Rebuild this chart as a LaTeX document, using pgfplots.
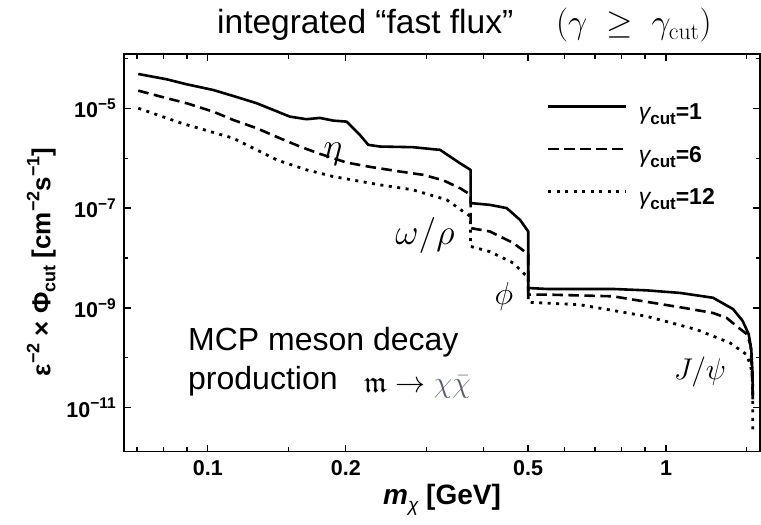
\RequirePackage{fix-cm}
\documentclass[border=0pt]{standalone}
\usepackage{amssymb}
\usepackage[no-math]{fontspec}
\setmainfont{Liberation Sans}
\usepackage{pgfplots}
\pgfplotsset{compat=1.18}
\DeclareFontFamily{U}{euf}{}
\DeclareFontShape{U}{euf}{m}{n}{<-> eufm10}{}
\definecolor{chigray}{HTML}{5B6070}

\newcommand{\fs}[1]{\fontsize{#1}{#1}\selectfont}
% raised / lowered small text: \sss{shift}{size}{text}
\newcommand{\sss}[3]{\raisebox{#1}{\fs{#2}#3}}

\begin{document}
\begin{tikzpicture}
\useasboundingbox (0,0) rectangle (761pt,525pt);
\begin{axis}[
  at={(124pt,73.3pt)}, anchor=south west,
  width=636pt, height=397.7pt, scale only axis,
  xmode=log, ymode=log,
  xmin=0.0656, xmax=1.604, ymin=1.32e-12, ymax=1.22e-4,
  xtick={0.1,0.2,0.5,1}, xticklabels={0.1,0.2,0.5,1},
  minor xtick={0.07,0.08,0.09,0.15,0.3,0.4,0.6,0.7,0.8,0.9,1.5},
  ytick={1e-11,1e-9,1e-7,1e-5},
  yticklabels={10\sss{8.5pt}{15.5}{−11},10\sss{8.5pt}{15.5}{−9},10\sss{8.5pt}{15.5}{−7},10\sss{8.5pt}{15.5}{−5}},
  minor ytick={1e-12,1e-10,1e-8,1e-6,1e-4},
  tick label style={font=\bfseries\fs{21.5}, inner sep=0pt},
  xticklabel style={anchor=north, yshift=-9pt},
  yticklabel style={anchor=east, xshift=-8pt},
  major tick length=7pt, minor tick length=4.5pt,
  tick style={black, line width=1.2pt},
  axis line style={line width=1.5pt},
  xlabel={\textit{m}\sss{-6pt}{19}{\mdseries\itshape χ} [GeV]},
  xlabel style={font=\bfseries\fs{28}, at={(axis description cs:0.5,-0.134)}, anchor=base, inner sep=0pt},
  ylabel={ε\sss{11pt}{18}{−2} × Φ\sss{-5pt}{18}{cut} [cm\sss{11pt}{18}{−2}s\sss{11pt}{18}{−1}]},
  ylabel style={font=\bfseries\fs{26}, at={(axis description cs:-0.13,0.477)}, anchor=center, inner sep=0pt},
  legend cell align=left,
  legend style={at={(axis description cs:0.6651,0.8743)}, anchor=north west,
    draw=none, fill=none, inner sep=0pt, outer sep=0pt, row sep=22.5pt,
    font=\bfseries\fs{23},
    nodes={inner sep=0pt, text height=16pt, text depth=4pt},
    /tikz/every odd column/.append style={column sep=11pt}},
  legend image code/.code={\draw[#1] (0pt,7.5pt) -- (78pt,7.5pt);},
]
\addplot[black, line width=2.6pt, line join=round] coordinates {
(0.0705,4.85e-5) (0.0813,3.80e-5) (0.0899,3.02e-5) (0.1027,2.32e-5)
(0.1136,1.76e-5) (0.1278,1.26e-5) (0.1389,9.25e-6) (0.1510,6.79e-6)
(0.1642,6.03e-6) (0.1756,6.40e-6) (0.1878,5.65e-6) (0.2008,5.40e-6)
(0.2147,2.92e-6) (0.2239,1.85e-6) (0.2374,1.71e-6) (0.2803,1.66e-6)
(0.3104,1.51e-6) (0.3211,1.47e-6) (0.3376,1.08e-6) (0.3549,7.94e-7)
(0.3745,5.83e-7) (0.3745,1.26e-7) (0.4128,1.16e-7) (0.4490,1.00e-7)
(0.4800,5.83e-8) (0.5004,3.40e-8) (0.5004,2.51e-9) (0.5490,2.40e-9)
(0.7661,2.40e-9) (0.9077,2.25e-9) (1.0730,2.00e-9) (1.2664,1.60e-9)
(1.4007,9.50e-10) (1.4700,5.50e-10) (1.5150,3.00e-10) (1.5350,1.50e-10)
(1.5450,5.00e-11) (1.5470,1.47e-11)
};
\addlegendentry{{\mdseries\itshape γ}\sss{-5pt}{17}{cut}=1}
\addplot[black, line width=2.6pt, dash pattern=on 10.5pt off 5.5pt] coordinates {
(0.0705,2.25e-5) (0.0813,1.59e-5) (0.0899,1.26e-5) (0.1027,8.55e-6)
(0.1136,5.83e-6) (0.1278,3.98e-6) (0.1436,2.51e-6) (0.1588,1.71e-6)
(0.1756,1.22e-6) (0.2008,8.17e-7) (0.2258,6.70e-7) (0.2625,5.40e-7)
(0.2953,4.63e-7) (0.3265,3.60e-7) (0.3549,2.51e-7) (0.3745,1.85e-7)
(0.3745,3.98e-8) (0.4128,3.40e-8) (0.4641,2.00e-8) (0.4965,1.26e-8)
(0.5004,1.15e-8) (0.5004,1.85e-9) (0.5490,1.85e-9) (0.7661,1.71e-9)
(1.0890,1.01e-9) (1.2664,7.94e-10) (1.3570,6.31e-10) (1.4270,4.29e-10)
(1.5004,3.00e-10) (1.5300,1.80e-10) (1.5387,6.79e-11) (1.5465,1.85e-11)
};
\addlegendentry{{\mdseries\itshape γ}\sss{-5pt}{17}{cut}=6}
\addplot[black, line width=2.8pt, dash pattern=on 3pt off 5.5pt] coordinates {
(0.0705,1.00e-5) (0.0876,5.01e-6) (0.1136,2.51e-6) (0.1413,9.25e-7)
(0.1642,5.83e-7) (0.1878,4.29e-7) (0.2374,2.92e-7) (0.2803,2.32e-7)
(0.3320,1.47e-7) (0.3608,8.55e-8) (0.3745,6.79e-8) (0.3745,1.71e-8)
(0.4128,1.34e-8) (0.4641,7.94e-9) (0.4965,4.29e-9) (0.5004,3.90e-9)
(0.5004,1.30e-9) (0.6488,1.16e-9) (0.9077,6.79e-10) (1.1668,3.68e-10)
(1.3796,2.00e-10) (1.5004,1.16e-10) (1.5310,6.79e-11) (1.5465,3.68e-11)
(1.5465,3.40e-12)
};
\addlegendentry{{\mdseries\itshape γ}\sss{-5pt}{17}{cut}=12}
\end{axis}
% title and annotations
\node[anchor=base west, inner sep=0pt] at (217pt,491pt) {\fs{33.5}integrated “fast flux”};
\node[anchor=base west, inner sep=0pt] at (556pt,491pt) {\fs{34}$(\gamma \;\geq\; \gamma_{\mathrm{cut}})$};
\node[inner sep=0pt] at (333pt,371pt) {\fs{36}$\eta$};
\node[inner sep=0pt] at (425pt,289pt) {\fs{36}$\omega/\rho$};
\node[inner sep=0pt] at (504pt,228pt) {\fs{32}$\phi$};
\node[inner sep=0pt] at (700pt,153pt) {\fs{30}$J/\psi$};
\node[anchor=base west, inner sep=0pt] at (188pt,174pt) {\fs{32}MCP meson decay};
\node[anchor=base west, inner sep=0pt] at (188pt,135pt) {\fs{32}production};
\node[anchor=base west, inner sep=0pt] at (364pt,132pt) {\fs{30}$\mathfrak{m}\to\textcolor{chigray}{\chi\bar{\chi}}$};
\end{tikzpicture}
\end{document}
